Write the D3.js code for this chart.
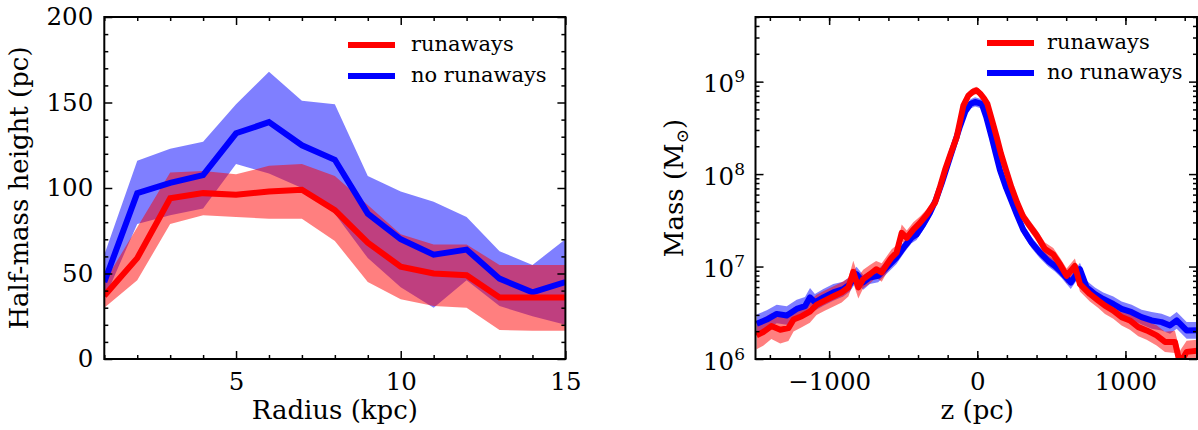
<!DOCTYPE html>
<html><head><meta charset="utf-8">
<script src="https://cdn.jsdelivr.net/npm/d3@7"></script>
<style>
body{margin:0;background:#fff}
svg{display:block}
text{font-family:"DejaVu Serif",serif;fill:#000}
</style>
</head><body>
<svg id="c" width="1198" height="430"></svg>
<script>
// ---------- Left panel data: half-mass height vs radius ----------
const radiusKpc = [1,2,3,4,5,6,7,8,9,10,11,12,13,14,15];
const hRunaways   = [37, 59, 94, 97, 96, 98, 99, 87, 68, 54, 50, 49, 36, 36, 36];
const hRunawaysLo = [30, 46, 79, 84, 83, 82, 82, 69, 45, 35, 31, 30, 17, 16.5, 16.5];
const hRunawaysHi = [45, 77, 109, 110, 108, 113, 114, 107, 90, 73, 67, 67, 55, 55, 55];
const hNoRun   = [45, 97, 103, 107.5, 132, 138.5, 125, 116.5, 85, 70, 61, 64, 47, 39, 45];
const hNoRunLo = [35, 79, 84, 88, 114, 108.5, 100, 85, 59, 42, 30, 46, 31, 25, 20];
const hNoRunHi = [61, 116, 123, 127, 149, 168, 151, 149, 107, 98, 92, 83, 63, 55, 70];

// ---------- Right panel data: vertical mass profile (log10 Msun) ----------
const zRunaways = [-1490,-1445,-1390,-1330,-1275,-1240,-1185,-1130,-1085,-1030,-970,-915,-870,-837,-803,-770,-725,-683,-645,-610,-578,-545,-510,-476,-432,-387,-341,-308,-286,-250,-218,-180,-139,-115,-94,-60,-30,-4,20,45,68,100,131,160,194,230,270,310,356,400,457,513,558,603,659,693,760,817,862,918,974,1030,1087,1143,1210,1267,1334,1368,1413,1491];
const logMRunaways = [6.255,6.292,6.356,6.317,6.334,6.427,6.463,6.513,6.585,6.631,6.678,6.721,6.775,6.942,6.775,6.864,6.917,6.971,6.936,7.025,7.097,7.15,7.365,7.311,7.40,7.472,7.561,7.64,7.69,7.87,8.044,8.22,8.40,8.58,8.74,8.85,8.89,8.905,8.87,8.82,8.76,8.58,8.40,8.22,8.044,7.86,7.687,7.54,7.436,7.34,7.19,7.13,7.025,6.90,7.006,6.81,6.703,6.631,6.577,6.524,6.453,6.417,6.345,6.309,6.255,6.185,6.185,5.95,6.077,6.09];
const spreadRunaways = [0.15,0.15,0.14,0.15,0.14,0.13,0.12,0.12,0.11,0.11,0.11,0.11,0.1,
  0.12,0.12,0.1,0.1,0.09,0.1,0.09,0.09,0.08,0.09,0.08,0.08,0.07,0.06,
  0.06,0.06,0.06,0.05,0.05,0.05,0.05,0.04,0.04,0.04,0.04,0.04,0.04,0.05,0.05,0.05,0.05,0.055,0.06,0.06,
  0.06,0.06,0.06,0.07,0.07,0.07,0.08,0.08,0.08,
  0.08,0.08,0.09,0.09,0.09,0.1,0.1,0.1,0.11,0.11,0.12,0.14,0.12,0.12];
const zNoRun = [-1489,-1421,-1354,-1286,-1219,-1163,-1129,-1096,-1039,-972,-905,-860,-815,-770,-725,-669,-613,-545,-489,-444,-410,-365,-320,-280,-240,-200,-160,-120,-80,-45,-15,30,60,97,125,153,195,243,270,310,367,423,479,524,569,631,693,738,794,850,918,974,1042,1109,1177,1244,1301,1346,1413,1491];
const logMNoRun = [6.381,6.427,6.488,6.47,6.542,6.571,6.667,6.614,6.667,6.721,6.756,6.81,6.917,6.828,6.882,6.899,6.989,7.097,7.221,7.311,7.347,7.454,7.579,7.72,7.90,8.10,8.30,8.50,8.68,8.76,8.78,8.76,8.62,8.40,8.22,8.044,7.85,7.66,7.55,7.40,7.257,7.15,7.06,7.006,6.936,6.828,6.971,6.775,6.703,6.649,6.595,6.542,6.506,6.453,6.417,6.399,6.363,6.417,6.309,6.31];
const spreadNoRun = [0.1,0.1,0.1,0.1,0.1,0.1,0.1,0.09,0.09,0.09,0.08,0.08,
  0.08,0.08,0.07,0.07,0.07,0.07,0.06,0.06,0.06,0.06,0.06,
  0.06,0.06,0.05,0.05,0.05,0.05,0.05,0.05,0.05,0.05,0.05,0.05,0.05,0.05,0.06,0.06,
  0.06,0.06,0.06,0.06,0.06,0.06,0.07,0.07,0.07,0.07,0.07,
  0.08,0.08,0.08,0.08,0.09,0.09,0.09,0.09,0.09,0.09];

// ---------- tick labels ----------
const leftXTicks = [5, 10, 15];
const leftYTicks = [0, 50, 100, 150, 200];
const rightXTicks = [-1000, 0, 1000];
const rightYTicks = [1e6, 1e7, 1e8, 1e9];
const legendLabels = ["runaways", "no runaways"];

// ---------- styling ----------
const RED = "#ff0000", BLUE = "#0000ff";
const TICK_FS = 24.5, LABEL_FS = 26, LEG_FS = 21;
const MAJ = 8, MIN = 4, LW = 6;
const svg = d3.select("#c");

const plotTop = 17, plotBottom = 359;

function styleAxis(g){
  g.select(".domain").remove();
  g.selectAll(".tick line").attr("stroke","#000").attr("stroke-width",1.5);
  g.selectAll("text").attr("font-size",TICK_FS).attr("font-family","DejaVu Serif").attr("fill","#000");
}

function frame(x0,x1){
  svg.append("rect").attr("x",x0).attr("y",plotTop).attr("width",x1-x0).attr("height",plotBottom-plotTop)
    .attr("fill","none").attr("stroke","#000").attr("stroke-width",2);
}

function ticksAll(xs, ys, xMajor, xMinor, yMajor, yMinor, x0, x1){
  svg.append("g").attr("transform",`translate(0,${plotBottom})`)
    .call(d3.axisBottom(xs).tickValues(xMinor).tickSize(-MIN).tickFormat("").tickSizeOuter(0)).call(styleAxis);
  svg.append("g").attr("transform",`translate(0,${plotTop})`)
    .call(d3.axisTop(xs).tickValues(xMinor).tickSize(-MIN).tickFormat("").tickSizeOuter(0)).call(styleAxis);
  svg.append("g").attr("transform",`translate(0,${plotTop})`)
    .call(d3.axisTop(xs).tickValues(xMajor).tickSize(-MAJ).tickFormat("").tickSizeOuter(0)).call(styleAxis);
  svg.append("g").attr("transform",`translate(${x0},0)`)
    .call(d3.axisLeft(ys).tickValues(yMinor).tickSize(-MIN).tickFormat("").tickSizeOuter(0)).call(styleAxis);
  svg.append("g").attr("transform",`translate(${x1},0)`)
    .call(d3.axisRight(ys).tickValues(yMinor).tickSize(-MIN).tickFormat("").tickSizeOuter(0)).call(styleAxis);
  svg.append("g").attr("transform",`translate(${x1},0)`)
    .call(d3.axisRight(ys).tickValues(yMajor).tickSize(-MAJ).tickFormat("").tickSizeOuter(0)).call(styleAxis);
}

function legend(x0, y0, dy, textX){
  [RED, BLUE].forEach((c,i)=>{
    const y = y0 + i*dy;
    svg.append("line").attr("x1",x0).attr("x2",x0+47).attr("y1",y).attr("y2",y)
      .attr("stroke",c).attr("stroke-width",LW);
    svg.append("text").attr("x",textX).attr("y",y+6).attr("font-size",LEG_FS).text(legendLabels[i]);
  });
}

// ================= LEFT PANEL =================
{
  const x0 = 104.3, x1 = 565.4;
  const xs = d3.scaleLinear().domain([1,15]).range([x0,x1]);
  const ys = d3.scaleLinear().domain([0,200]).range([plotBottom,plotTop]);
  svg.append("clipPath").attr("id","clipL").append("rect").attr("x",x0).attr("y",plotTop).attr("width",x1-x0).attr("height",plotBottom-plotTop);
  const plot = svg.append("g").attr("clip-path","url(#clipL)");
  const area = (lo,hi)=> d3.area().x((d,i)=>xs(radiusKpc[i])).y0((d,i)=>ys(lo[i])).y1((d,i)=>ys(hi[i]));
  const line = (v)=> d3.line().x((d,i)=>xs(radiusKpc[i])).y((d,i)=>ys(v[i]));
  plot.append("path").attr("d",area(hNoRunLo,hNoRunHi)(radiusKpc)).attr("fill",BLUE).attr("fill-opacity",0.5);
  plot.append("path").attr("d",area(hRunawaysLo,hRunawaysHi)(radiusKpc)).attr("fill",RED).attr("fill-opacity",0.5);
  plot.append("path").attr("d",line(hNoRun)(radiusKpc)).attr("fill","none").attr("stroke",BLUE).attr("stroke-width",LW).attr("stroke-linejoin","miter");
  plot.append("path").attr("d",line(hRunaways)(radiusKpc)).attr("fill","none").attr("stroke",RED).attr("stroke-width",LW).attr("stroke-linejoin","miter");

  const xMinor = d3.range(1,16).filter(v=>!leftXTicks.includes(v));
  const yMinor = d3.range(0,201,10).filter(v=>!leftYTicks.includes(v));
  ticksAll(xs, ys, leftXTicks, xMinor, leftYTicks, yMinor, x0, x1);
  svg.append("g").attr("transform",`translate(0,${plotBottom})`)
    .call(d3.axisBottom(xs).tickValues(leftXTicks).tickSize(-MAJ).tickPadding(13.5).tickSizeOuter(0)).call(styleAxis);
  svg.append("g").attr("transform",`translate(${x0},0)`)
    .call(d3.axisLeft(ys).tickValues(leftYTicks).tickSize(-MAJ).tickPadding(11).tickSizeOuter(0)).call(styleAxis);
  frame(x0,x1);
  legend(348, 45, 31, 411);
  svg.append("text").attr("x",(x0+x1)/2).attr("y",419).attr("text-anchor","middle").attr("font-size",LABEL_FS).text("Radius (kpc)");
  svg.append("text").attr("transform",`translate(28,${(plotTop+plotBottom)/2}) rotate(-90)`).attr("text-anchor","middle").attr("font-size",LABEL_FS).text("Half-mass height (pc)");
}

// ================= RIGHT PANEL =================
{
  const x0 = 755.5, x1 = 1197;
  const xs = d3.scaleLinear().domain([-1497,1483]).range([x0,x1]);
  const ys = d3.scaleLog().domain([1e6,5e9]).range([plotBottom,plotTop]);
  svg.append("clipPath").attr("id","clipR").append("rect").attr("x",x0).attr("y",plotTop).attr("width",x1-x0).attr("height",plotBottom-plotTop);
  const plot = svg.append("g").attr("clip-path","url(#clipR)");
  const area = (zs,lm,sp)=> d3.area().x((d,i)=>xs(zs[i])).y0((d,i)=>ys(Math.pow(10,lm[i]-sp[i]))).y1((d,i)=>ys(Math.pow(10,lm[i]+sp[i])));
  const line = (zs,lm)=> d3.line().x((d,i)=>xs(zs[i])).y((d,i)=>ys(Math.pow(10,lm[i])));
  plot.append("path").attr("d",area(zNoRun,logMNoRun,spreadNoRun)(zNoRun)).attr("fill",BLUE).attr("fill-opacity",0.5);
  plot.append("path").attr("d",area(zRunaways,logMRunaways,spreadRunaways)(zRunaways)).attr("fill",RED).attr("fill-opacity",0.5);
  plot.append("path").attr("d",line(zNoRun,logMNoRun)(zNoRun)).attr("fill","none").attr("stroke",BLUE).attr("stroke-width",LW).attr("stroke-linejoin","round");
  plot.append("path").attr("d",line(zRunaways,logMRunaways)(zRunaways)).attr("fill","none").attr("stroke",RED).attr("stroke-width",LW).attr("stroke-linejoin","round");

  const xMinor = d3.range(-1400,1500,200);
  const yMinor = [];
  [1e6,1e7,1e8,1e9].forEach(d=>{ for(let k=2;k<=9;k++){ const v=k*d; if(v<=5e9) yMinor.push(v); } });
  ticksAll(xs, ys, rightXTicks, xMinor, rightYTicks, yMinor, x0, x1);
  svg.append("g").attr("transform",`translate(0,${plotBottom})`)
    .call(d3.axisBottom(xs).tickValues(rightXTicks).tickSize(-MAJ).tickPadding(13.5).tickSizeOuter(0)
      .tickFormat(d=> d<0 ? "\u2212"+Math.abs(d) : String(d))).call(styleAxis);
  const ya = svg.append("g").attr("transform",`translate(${x0},0)`)
    .call(d3.axisLeft(ys).tickValues(rightYTicks).tickSize(-MAJ).tickPadding(10.5).tickSizeOuter(0).tickFormat(""))
    .call(styleAxis);
  ya.selectAll(".tick").each(function(d){
    const t = d3.select(this).append("text").attr("x",-10.5).attr("y",10).attr("text-anchor","end")
      .attr("font-size",TICK_FS);
    t.append("tspan").text("10");
    t.append("tspan").attr("dy",-10).attr("font-size",17).text(Math.round(Math.log10(d)));
  });
  frame(x0,x1);
  legend(987, 43, 30, 1047);
  svg.append("text").attr("x",xs(0)).attr("y",419).attr("text-anchor","middle").attr("font-size",LABEL_FS).text("z (pc)");
  const yl = svg.append("text").attr("transform",`translate(683,${(plotTop+plotBottom)/2}) rotate(-90)`).attr("text-anchor","middle").attr("font-size",LABEL_FS);
  yl.append("tspan").text("Mass (M");
  yl.append("tspan").attr("font-size",17).attr("dy",5).text("\u2299");
  yl.append("tspan").attr("dy",-5).text(")");
}
</script>
</body></html>
